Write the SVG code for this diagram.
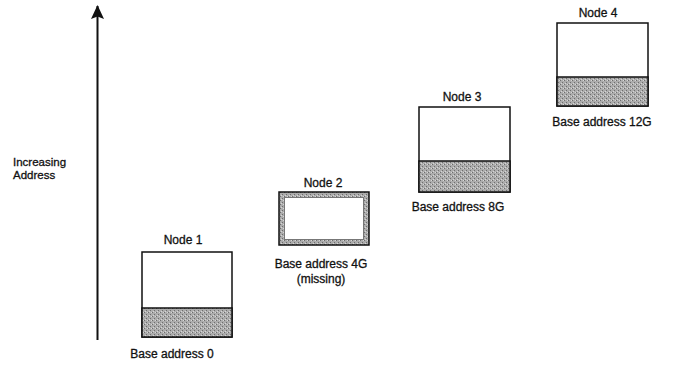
<svg xmlns="http://www.w3.org/2000/svg" width="673" height="366" viewBox="0 0 673 366">
<style>
text{font-family:"Liberation Sans",Arial,sans-serif;font-size:12px;fill:#111;stroke:#111;stroke-width:0.3;text-anchor:middle}
.box{fill:#fff;stroke:#111;stroke-width:1.5}
.shade{fill:url(#dither);stroke:#111;stroke-width:1.5}
</style>
<defs>
<pattern id="dither" width="4" height="4" patternUnits="userSpaceOnUse">
<rect width="4" height="4" fill="#acacac"/>
<rect x="0" y="0" width="1" height="1" fill="#6e6e6e"/>
<rect x="2" y="2" width="1" height="1" fill="#6e6e6e"/>
<rect x="3" y="0" width="1" height="1" fill="#d6d6d6"/>
<rect x="1" y="3" width="1" height="1" fill="#d6d6d6"/>
</pattern>
<marker id="arrow" markerWidth="14" markerHeight="14" refX="13" refY="7" orient="auto" markerUnits="userSpaceOnUse" viewBox="0 0 14 14">
<path d="M14 7 L0 0.5 L2.5 7 L0 13.5 Z" fill="#111"/>
</marker>
</defs>
<g id="connectors">
<line x1="97.5" y1="340" x2="97.5" y2="6" stroke="#111" stroke-width="2" marker-end="url(#arrow)"/>
</g>
<g id="axis-label">
<text x="13" y="166" style="text-anchor:start;font-size:11.5px">Increasing</text>
<text x="13" y="179" style="text-anchor:start;font-size:11.5px">Address</text>
</g>
<g id="node1">
<text x="183" y="244">Node 1</text>
<rect class="box" x="142" y="252" width="90" height="85"/>
<rect class="shade" x="142" y="308" width="90" height="29"/>
<text x="172" y="358">Base address 0</text>
</g>
<g id="node2">
<text x="323" y="187">Node 2</text>
<rect class="shade" x="279" y="192" width="90" height="53"/>
<rect x="284.5" y="197.5" width="79" height="42" fill="#fff" stroke="#777" stroke-width="1"/>
<text x="321" y="268">Base address 4G</text>
<text x="321" y="283">(missing)</text>
</g>
<g id="node3">
<text x="462" y="101">Node 3</text>
<rect class="box" x="419" y="107" width="91" height="85"/>
<rect class="shade" x="419" y="161" width="91" height="31"/>
<text x="458" y="211">Base address 8G</text>
</g>
<g id="node4">
<text x="598" y="17">Node 4</text>
<rect class="box" x="557" y="23" width="91" height="83"/>
<rect class="shade" x="557" y="77" width="91" height="29"/>
<text x="602" y="126">Base address 12G</text>
</g>
</svg>
